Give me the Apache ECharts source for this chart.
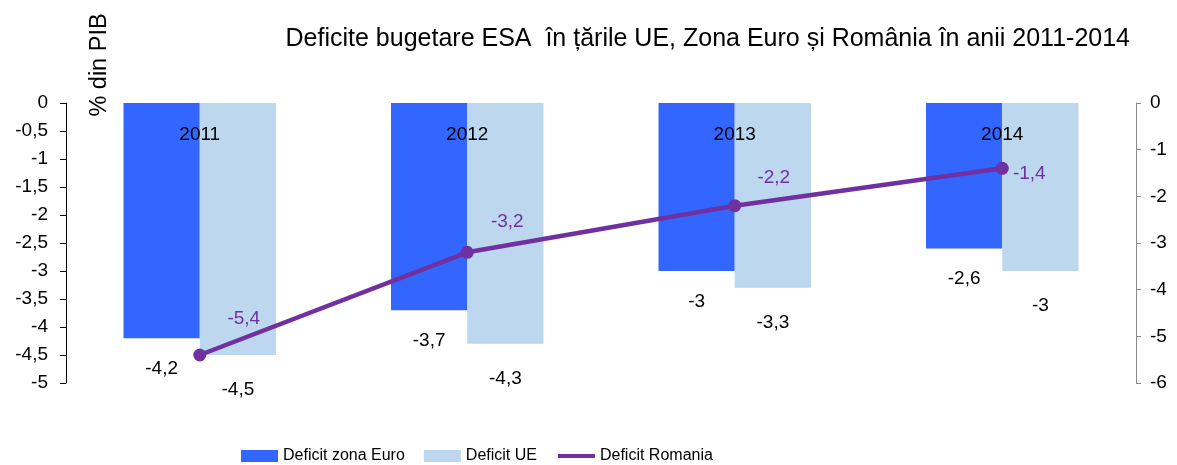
<!DOCTYPE html>
<html>
<head>
<meta charset="utf-8">
<script src="https://cdn.jsdelivr.net/npm/echarts@6/dist/echarts.min.js"></script>
<style>
  html, body { margin: 0; padding: 0; background: #fff; }
  #chart { width: 1177px; height: 465px; }
</style>
</head>
<body>
<div id="chart"></div>
<script>
// date
const years = ['2011', '2012', '2013', '2014'];
const deficitEuro = [-4.2, -3.7, -3, -2.6];
const deficitUE = [-4.5, -4.3, -3.3, -3];
const deficitRomania = [-5.4, -3.2, -2.2, -1.4];

// pozitia etichetelor pe linie (doar stil)
const romLabelOffset = [[44, -36], [40, -31], [39, -28], [27, 5]];

const font = '"Liberation Sans", Arial, sans-serif';
const fmt = v => String(v).replace('.', ',');

const chart = echarts.init(document.getElementById('chart'));

const option = {
    animation: false,
    textStyle: { fontFamily: font },
    title: {
        text: 'Deficite bugetare ESA  în țările UE, Zona Euro și România în anii 2011-2014',
        right: 42,
        top: 22,
        textStyle: { fontSize: 25, fontWeight: 'normal', color: '#000', fontFamily: font }
    },
    graphic: [{
        type: 'text',
        x: 100,
        y: 65,
        rotation: Math.PI / 2,
        style: {
            text: '% din PIB',
            font: '23.5px ' + font,
            fill: '#000',
            align: 'center',
            verticalAlign: 'middle'
        }
    }],
    legend: {
        left: 236,
        top: 443,
        itemWidth: 37,
        itemHeight: 12,
        itemGap: 19,
        textStyle: { fontSize: 16, color: '#000', fontFamily: font },
        data: [
            { name: 'Deficit zona Euro', icon: 'rect' },
            { name: 'Deficit UE', icon: 'rect' },
            { name: 'Deficit Romania', itemStyle: { opacity: 0 }, lineStyle: { width: 4 } }
        ]
    },
    grid: { left: 66, right: 41, top: 103, bottom: 82 },
    xAxis: {
        type: 'category',
        position: 'top',
        z: 10,
        data: years,
        axisLine: { show: false },
        axisTick: { show: false },
        axisLabel: { inside: true, margin: 22, fontSize: 19, color: '#000' }
    },
    yAxis: [{
        type: 'value',
        min: -5,
        max: 0,
        interval: 0.5,
        splitLine: { show: false },
        axisLine: { show: true, lineStyle: { color: '#000', width: 1 } },
        axisTick: { show: true, length: 6, lineStyle: { color: '#000' } },
        axisLabel: { margin: 18, fontSize: 19, color: '#000', formatter: fmt }
    }, {
        type: 'value',
        min: -6,
        max: 0,
        interval: 1,
        position: 'right',
        splitLine: { show: false },
        axisLine: { show: true, lineStyle: { color: '#8c8c8c', width: 1 } },
        axisTick: { show: true, length: 5, lineStyle: { color: '#8c8c8c' } },
        axisLabel: { margin: 14, fontSize: 19, color: '#000', formatter: fmt }
    }],
    series: [{
        name: 'Deficit zona Euro',
        type: 'bar',
        data: deficitEuro,
        barGap: '0%',
        barCategoryGap: '43%',
        itemStyle: { color: '#3366FF' },
        label: {
            show: true,
            position: 'bottom',
            distance: 21,
            fontSize: 19,
            color: '#000',
            formatter: p => fmt(p.value)
        }
    }, {
        name: 'Deficit UE',
        type: 'bar',
        data: deficitUE,
        itemStyle: { color: '#BDD7EE' },
        label: {
            show: true,
            position: 'bottom',
            distance: 25,
            fontSize: 19,
            color: '#000',
            formatter: p => fmt(p.value)
        }
    }, {
        name: 'Deficit Romania',
        type: 'line',
        yAxisIndex: 1,
        z: 5,
        symbol: 'circle',
        symbolSize: 13,
        lineStyle: { color: '#7030A0', width: 4.5 },
        itemStyle: { color: '#7030A0' },
        data: deficitRomania.map((v, i) => ({
            value: v,
            label: { offset: romLabelOffset[i] }
        })),
        label: {
            show: true,
            position: 'inside',
            fontSize: 19,
            color: '#7030A0',
            formatter: p => fmt(p.value)
        }
    }]
};

chart.setOption(option);
window.addEventListener('resize', () => chart.resize());
</script>
</body>
</html>
